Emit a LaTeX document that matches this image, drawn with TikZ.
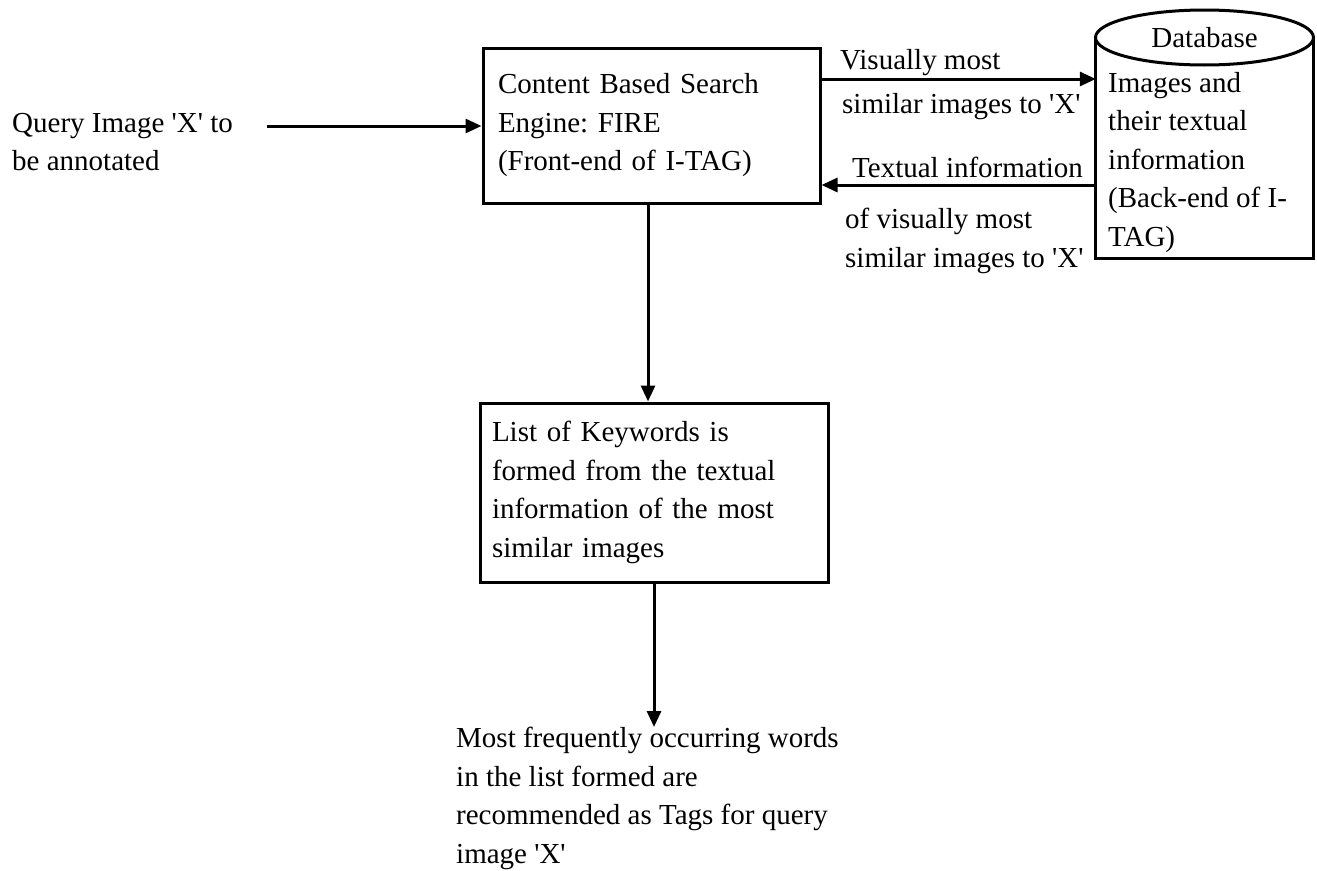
\documentclass[tikz,border=0pt]{standalone}
\usepackage{fontspec}
\setmainfont{Liberation Serif}[Ligatures=TeXOff]
\usetikzlibrary{arrows.meta,shapes.geometric}
\frenchspacing
\tikzset{
  txt/.style={font=\fontsize{29}{38.5}\selectfont, inner sep=0pt, align=left},
  boxnode/.style={draw, line width=3pt, rectangle, inner ysep=0pt, font=\fontsize{29}{38.5}\selectfont, align=left},
  arr/.style={line width=3pt, -{Triangle[length=16pt,width=14pt]}},
  edge3/.style={line width=3pt}
}
\begin{document}
\begin{tikzpicture}[x=1pt,y=-1pt]
\useasboundingbox (0,0) rectangle (1317,870);
% query text
\node[txt, anchor=north west] (q) at (12,113) {Query Image 'X' to\\be annotated};
% box 1
\node[boxnode, minimum width=337pt, minimum height=155pt, inner xsep=15pt, text width=307pt] (box1) at (651.5,125.5)
  {Content Based Search\\Engine: FIRE\\(Front-end of I-TAG)};
% database cylinder
\node[minimum width=217pt, minimum height=220.5pt, inner sep=0pt] (db) at (1204.5,147.75) {};
\draw[edge3] (db.north west) -- (db.south west) -- (db.south east) -- (db.north east);
\node[ellipse, draw, line width=3pt, fill=white, inner sep=0pt, minimum width=218pt, minimum height=55pt,
  font=\fontsize{29}{38.5}\selectfont] (dbtop) at (1204.5,37.5) {Database};
\node[txt, anchor=north west] (dbtxt) at (1108,72)
  {Images and\\their textual\\information\\(Back-end of I-\\TAG)};
% box 2
\node[boxnode, minimum width=348pt, minimum height=179pt, inner xsep=12pt, text width=324pt] (box2) at (654,492.5)
  {List of Keywords is\\formed from the textual\\information of the most\\similar images};
% result text
\node[txt, anchor=north west] (res) at (456,727)
  {Most frequently occurring words\\in the list formed are\\recommended as Tags for query\\image 'X'};
% arrow labels
\node[txt, anchor=base west] (l1) at (840,69) {Visually most};
\node[txt, anchor=base west] (l2) at (842,113) {similar images to 'X'};
\node[txt, anchor=base west] (l3) at (852,177) {Textual information};
\node[txt, anchor=north west] (l4) at (845,208) {of visually most\\similar images to 'X'};
% connectors
\coordinate (qs) at (267,126);
\draw[arr] (qs) -- (box1.west |- qs);
\coordinate (ya) at (0,79);
\draw[arr] (box1.east |- ya) -- (db.west |- ya);
\coordinate (yb) at (0,185);
\draw[arr] (db.west |- yb) -- (box1.east |- yb);
\coordinate (vx) at (648,0);
\draw[arr] (box1.south -| vx) -- (box2.north -| vx);
\draw[arr] (box2.south) -- (box2.south |- res.north);
\end{tikzpicture}
\end{document}
